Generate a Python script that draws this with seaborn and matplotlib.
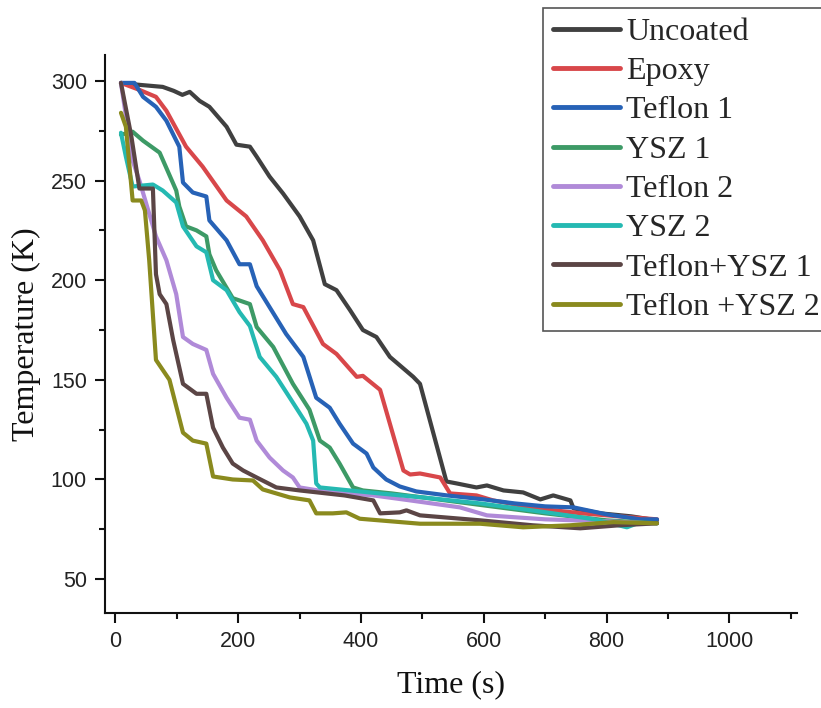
import matplotlib
matplotlib.use("Agg")
import matplotlib.pyplot as plt
from matplotlib.ticker import MultipleLocator
import numpy as np
import pandas as pd
import seaborn as sns

# ---- cooling curves: time (s) and temperature (K) for each sample ----
labels = ["Uncoated", "Epoxy", "Teflon 1", "YSZ 1", "Teflon 2", "YSZ 2",
          "Teflon+YSZ 1", "Teflon +YSZ 2"]

t_uncoated = [9, 40, 77, 95, 109, 121, 137, 153, 181, 197, 219, 230, 251, 273, 300,
              322, 341, 360, 382, 403, 425, 447, 485, 496, 539, 556, 588, 605, 632,
              664, 692, 713, 741, 746, 790, 840, 882]
T_uncoated = [299, 298, 297, 295, 293, 294.5, 290, 287, 277, 268, 267, 262, 252, 243.5, 232,
              220, 198, 195, 185, 175, 171.5, 161.5, 151.5, 148, 99, 98, 96, 97, 94.5,
              93.5, 90, 92, 89.5, 85.5, 83, 81.5, 79.5]

t_epoxy = [9, 39, 66, 83, 115, 142, 181, 213, 240, 268, 289, 306, 338, 360, 393, 403,
           431, 469, 480, 496, 529, 545, 588, 615, 650, 700, 760, 820, 882]
T_epoxy = [299, 295.5, 292, 285, 267, 257, 240, 232, 220, 205, 188, 186.5, 168, 163, 151.5, 152,
           145, 104.5, 102.5, 103, 101, 93, 92, 89.5, 87.5, 85, 83, 81.5, 80]

t_teflon1 = [9, 31, 45, 66, 83, 104, 110, 126, 148, 153, 181, 202, 219, 230, 251, 278,
             306, 327, 349, 365, 387, 409, 420, 441, 463, 490, 540, 600, 650, 700, 746,
             800, 855, 882]
T_teflon1 = [299, 299, 292, 287, 280, 267, 249, 244, 242, 230, 220, 208, 208, 197, 186.5, 173,
             161.5, 141, 136, 128, 118, 113, 106, 100, 96.5, 94, 92, 90, 88, 86.5, 86,
             82.5, 80, 80]

t_ysz1 = [9, 28, 45, 72, 99, 104, 115, 132, 148, 153, 164, 191, 219, 230, 257, 289,
          316, 333, 349, 365, 387, 403, 450, 500, 600, 700, 800, 882]
T_ysz1 = [273, 274.5, 270, 264, 245, 237, 227, 225, 222, 213, 205, 191, 188, 176.5, 166.5, 148,
          135, 119.5, 116, 108, 96, 94.5, 93, 91, 87, 83, 79.5, 78]

t_teflon2 = [9, 28, 39, 66, 83, 99, 110, 126, 148, 159, 181, 202, 219, 230, 251, 273,
             289, 300, 340, 420, 480, 561, 605, 700, 800, 870]
T_teflon2 = [299, 260, 250, 222, 210, 193, 171.5, 168, 165, 153, 141, 131, 130, 119.5, 111, 104.5,
             101, 96, 94, 92, 89.5, 86, 82, 80, 79, 78]

t_ysz2 = [9, 17, 28, 61, 77, 99, 110, 132, 148, 159, 181, 202, 219, 235, 262, 284,
          311, 322, 327, 333, 430, 500, 594, 702, 780, 833, 850]
T_ysz2 = [274, 262, 247, 248, 245, 239, 227, 217, 214, 200, 195, 184, 177, 161.5, 151.5, 141,
          128, 119.5, 98, 96, 93, 91, 88, 83.5, 80, 76, 78]

t_tys1 = [9, 26, 39, 61, 66, 72, 83, 94, 110, 132, 148, 159, 175, 191, 208, 230, 262,
          300, 373, 420, 431, 463, 474, 496, 594, 680, 757, 820, 882]
T_tys1 = [299, 272, 246, 246, 203, 193, 188, 170, 148, 143, 143, 126, 116, 108, 104.5, 101, 96,
          94.5, 92, 89.5, 83, 83.5, 84.5, 82, 79.5, 77, 75.5, 77, 78]

t_tys2 = [9, 17, 28, 42, 48, 55, 66, 88, 110, 126, 148, 159, 191, 224, 240, 284, 316,
          327, 354, 376, 398, 496, 594, 664, 740, 811, 882]
T_tys2 = [284, 277, 240, 240, 235, 210, 160, 150, 123.5, 119.5, 118, 101.5, 100, 99.5, 95, 91, 89.5,
          83, 83, 83.5, 80.3, 77.8, 77.8, 76, 77, 78.6, 78]

colors = ["#404040", "#d8474a", "#2762b6", "#3d9a66", "#b08ad8", "#25b9b2",
          "#5b4545", "#8a8a1e"]

times = [t_uncoated, t_epoxy, t_teflon1, t_ysz1, t_teflon2, t_ysz2, t_tys1, t_tys2]
temps = [T_uncoated, T_epoxy, T_teflon1, T_ysz1, T_teflon2, T_ysz2, T_tys1, T_tys2]

frames = []
for name, tt, TT in zip(labels, times, temps):
    frames.append(pd.DataFrame({"Time": tt, "Temperature": TT, "Sample": name}))
df = pd.concat(frames, ignore_index=True)

sns.set_style("ticks")
plt.rcParams["font.family"] = ["Liberation Sans", "DejaVu Sans"]

fig = plt.figure(figsize=(8.21, 7.08), dpi=100)
ax = fig.add_axes([105 / 821, 1 - 613 / 708, (797 - 105) / 821, (613 - 55) / 708])

sns.lineplot(data=df, x="Time", y="Temperature", hue="Sample", hue_order=labels,
             palette=dict(zip(labels, colors)), sort=False, estimator=None,
             linewidth=3, legend=False, ax=ax)

ax.set_xlim(-17, 1110)
ax.set_ylim(33, 313)
ax.xaxis.set_major_locator(MultipleLocator(200))
ax.xaxis.set_minor_locator(MultipleLocator(100))
ax.yaxis.set_major_locator(MultipleLocator(50))
ax.yaxis.set_minor_locator(MultipleLocator(25))

for side in ["top", "right"]:
    ax.spines[side].set_visible(False)
for side in ["left", "bottom"]:
    ax.spines[side].set_linewidth(1.5)
    ax.spines[side].set_color("#111111")

ax.tick_params(which="major", direction="out", length=7, width=1.5,
               labelsize=15.5, labelcolor="#222222", color="#111111", pad=6)
ax.tick_params(which="minor", direction="out", length=4, width=1.5, color="#111111")

serif = ["Liberation Serif", "DejaVu Serif"]
ax.set_xlabel("Time (s)", fontsize=23, family=serif, color="#111111")
ax.set_ylabel("Temperature (K)", fontsize=23, family=serif, color="#111111")
ax.xaxis.set_label_coords(0.5, -0.103)
ax.yaxis.set_label_coords(-0.092, 0.5)

handles = ax.get_lines()[:len(labels)]
leg = ax.legend(handles, labels, loc="upper left",
                bbox_to_anchor=(543 / 821, 1 - 8 / 708), bbox_transform=fig.transFigure,
                prop={"family": serif, "size": 23}, frameon=True, fancybox=False,
                framealpha=1, edgecolor="#555555", borderaxespad=0, borderpad=0.3,
                handlelength=2.1, handletextpad=0.2, labelspacing=0.31)
leg.get_frame().set_linewidth(1.2)
for h in leg.get_lines():
    h.set_linewidth(3.5)

fig.savefig("out.png", dpi=100)
